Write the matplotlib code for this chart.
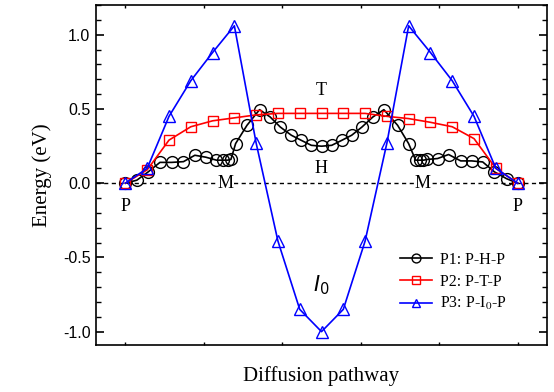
import matplotlib
matplotlib.use("Agg")
import matplotlib.pyplot as plt
from matplotlib.ticker import MultipleLocator

# ---- data ----
x_p1 = [0, 0.029, 0.058, 0.088, 0.118, 0.148, 0.177, 0.205, 0.232, 0.25, 0.261,
        0.269, 0.281, 0.31, 0.342, 0.369, 0.395, 0.423, 0.448, 0.474, 0.5,
        0.526, 0.552, 0.577, 0.603, 0.631, 0.659, 0.694, 0.722, 0.74, 0.75,
        0.76, 0.77, 0.796, 0.824, 0.855, 0.883, 0.911, 0.941, 0.972, 1.0]
y_p1 = [0, 0.02, 0.076, 0.14, 0.14, 0.145, 0.188, 0.175, 0.155, 0.155, 0.155,
        0.16, 0.267, 0.39, 0.495, 0.446, 0.378, 0.323, 0.289, 0.255, 0.249,
        0.255, 0.289, 0.323, 0.378, 0.446, 0.495, 0.39, 0.267, 0.155, 0.155,
        0.155, 0.16, 0.166, 0.193, 0.15, 0.15, 0.143, 0.076, 0.03, 0]

x_p23 = [i / 18 for i in range(19)]
y_p2 = [0, 0.09, 0.29, 0.38, 0.42, 0.44, 0.46, 0.47, 0.47, 0.47, 0.47, 0.47,
        0.45, 0.435, 0.41, 0.38, 0.30, 0.10, 0]
y_p3 = [0, 0.1, 0.45, 0.69, 0.88, 1.06, 0.27, -0.39, -0.85, -1.0, -0.85, -0.39,
        0.27, 1.06, 0.88, 0.69, 0.45, 0.1, 0]

labels = ["P1: P-H-P", "P2: P-T-P", r"P3: P-I$_\mathrm{0}$-P"]
y_ticks = [-1.0, -0.5, 0.0, 0.5, 1.0]

# site labels: (text, x, y)
site_labels = [("P", 0.0, -0.155), ("P", 1.0, -0.155), ("M", 0.255, 0.0),
               ("M", 0.757, 0.0), ("T", 0.5, 0.625), ("H", 0.5, 0.10)]

serif = "Liberation Serif"
sans = "Liberation Sans"
plt.rcParams["mathtext.fontset"] = "stix"

fig = plt.figure(figsize=(5.54, 3.92), dpi=100)
ax = fig.add_axes([0.1733, 0.1199, 0.8141, 0.8673])

ax.axhline(0, color="black", lw=1.0, ls=(0, (3, 2.5)), zorder=1)

ax.plot(x_p1, y_p1, color="black", lw=1.2, marker="o", ms=8.5, mfc="none",
        mec="black", mew=1.0, label=labels[0], zorder=3)
ax.plot(x_p23, y_p2, color="red", lw=1.2, marker="s", ms=7.5, mfc="none",
        mec="red", mew=1.0, label=labels[1], zorder=4)
ax.plot(x_p23, y_p3, color="#0000ff", lw=1.2, marker="^", ms=8.5, mfc="none",
        mec="#0000ff", mew=1.0, label=labels[2], zorder=5)

for t, xx, yy in site_labels:
    bb = dict(facecolor="white", edgecolor="none", pad=0.5) if t == "M" else None
    ax.text(xx, yy, t, ha="center", va="center", fontsize=13, family=serif,
            bbox=bb, zorder=2)

ax.text(0.5, -0.685, r"$\mathit{I_0}$", ha="center", va="center",
        fontsize=15, math_fontfamily="dejavusans", zorder=6)

ax.set_xlim(-0.075, 1.075)
ax.set_ylim(-1.09, 1.2)
ax.set_xticks([0, 0.2, 0.4, 0.6, 0.8, 1.0])
ax.set_xticklabels([])
ax.set_yticks(y_ticks)
ax.set_yticklabels([f"{v:.1f}" for v in y_ticks], family=sans, fontsize=11.5)
ax.yaxis.set_minor_locator(MultipleLocator(0.1))
ax.tick_params(axis="y", which="major", direction="in", length=6, width=1.2,
               left=True, right=True, pad=4)
ax.tick_params(axis="y", which="minor", direction="in", length=3.5, width=1.0,
               left=True, right=True)
ax.tick_params(axis="x", which="major", direction="in", length=2.5, width=1.0,
               top=True, bottom=True)
for s in ax.spines.values():
    s.set_linewidth(1.2)

ax.set_ylabel("Energy (eV)", family=serif, fontsize=15, labelpad=8)
ax.set_xlabel("Diffusion pathway", family=serif, fontsize=15, labelpad=12)

leg = ax.legend(loc="center left", bbox_to_anchor=(0.674, 0.185), frameon=False,
                prop={"family": serif, "size": 11.5}, handlelength=2.0,
                handletextpad=0.5, labelspacing=0.35, borderpad=0,
                borderaxespad=0, markerscale=0.75)

fig.savefig("out.png", dpi=100)
